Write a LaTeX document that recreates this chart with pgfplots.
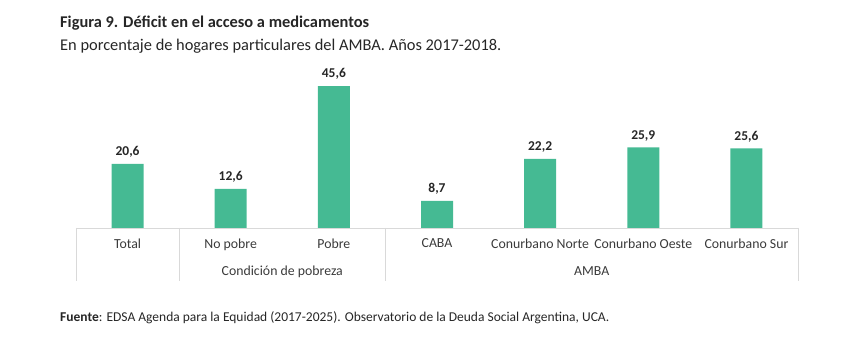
\documentclass[border=0pt]{standalone}
\usepackage{pgfplots}
\pgfplotsset{compat=1.18}
\usepackage{fontspec}
\setmainfont{Carlito}
\definecolor{barg}{HTML}{45BA93}
\definecolor{sep}{HTML}{D9D9D9}
\definecolor{txt}{HTML}{262626}
\definecolor{tick}{HTML}{3A3A3A}
\begin{document}
\begin{tikzpicture}[x=1pt,y=1pt]
\path (0,0) rectangle (862,364);
\node[anchor=base west,font=\fontsize{16.4}{18}\selectfont\bfseries,text=txt,inner sep=0] at (60,336) {Figura 9. Déficit en el acceso a medicamentos};
\node[anchor=base west,font=\fontsize{16.4}{18}\selectfont,text=txt,inner sep=0] at (60,313) {En porcentaje de hogares particulares del AMBA. Años 2017-2018.};
\node[anchor=base west,font=\fontsize{13.5}{15}\selectfont,text=txt,inner sep=0] at (60,42) {\textbf{Fuente}: EDSA Agenda para la Equidad (2017-2025). Observatorio de la Deuda Social Argentina, UCA.};
\begin{axis}[
  at={(76pt,136pt)}, anchor=south west,
  scale only axis, width=722pt, height=155.5pt,
  xmin=-0.5, xmax=6.5, ymin=0, ymax=50,
  axis y line=none,
  axis x line*=bottom,
  x axis line style={draw=sep, line width=0.8pt, -},
  xtick=data,
  xticklabels={Total,No pobre,Pobre,CABA,Conurbano Norte,Conurbano Oeste,Conurbano Sur},
  xtick style={draw=none},
  x tick label style={font=\fontsize{13.8}{16}\selectfont, text=tick, yshift=-3pt},
  ybar, bar width=32pt,
  /pgf/number format/assume math mode=true,
  /pgf/number format/.cd, use comma, fixed, fixed zerofill, precision=1,
  /pgfplots/.cd,
  nodes near coords,
  every node near coord/.append style={font=\fontsize{13.5}{15}\selectfont\bfseries, text=txt, yshift=3pt},
  clip=false,
]
\addplot[fill=barg, draw=none] coordinates {(0,20.6) (1,12.6) (2,45.6) (3,8.7) (4,22.2) (5,25.9) (6,25.6)};
\draw[sep, line width=0.8pt] (axis cs:-0.5,0) -- ++(0pt,-53pt);
\draw[sep, line width=0.8pt] (axis cs:0.5,0) -- ++(0pt,-53pt);
\draw[sep, line width=0.8pt] (axis cs:2.5,0) -- ++(0pt,-53pt);
\draw[sep, line width=0.8pt] (axis cs:6.5,0) -- ++(0pt,-53pt);
\node[font=\fontsize{13.8}{16}\selectfont, text=tick, anchor=base] at ([yshift=-47pt]axis cs:1.5,0) {Condición de pobreza};
\node[font=\fontsize{13.8}{16}\selectfont, text=tick, anchor=base] at ([yshift=-47pt]axis cs:4.5,0) {AMBA};
\end{axis}
\end{tikzpicture}
\end{document}
